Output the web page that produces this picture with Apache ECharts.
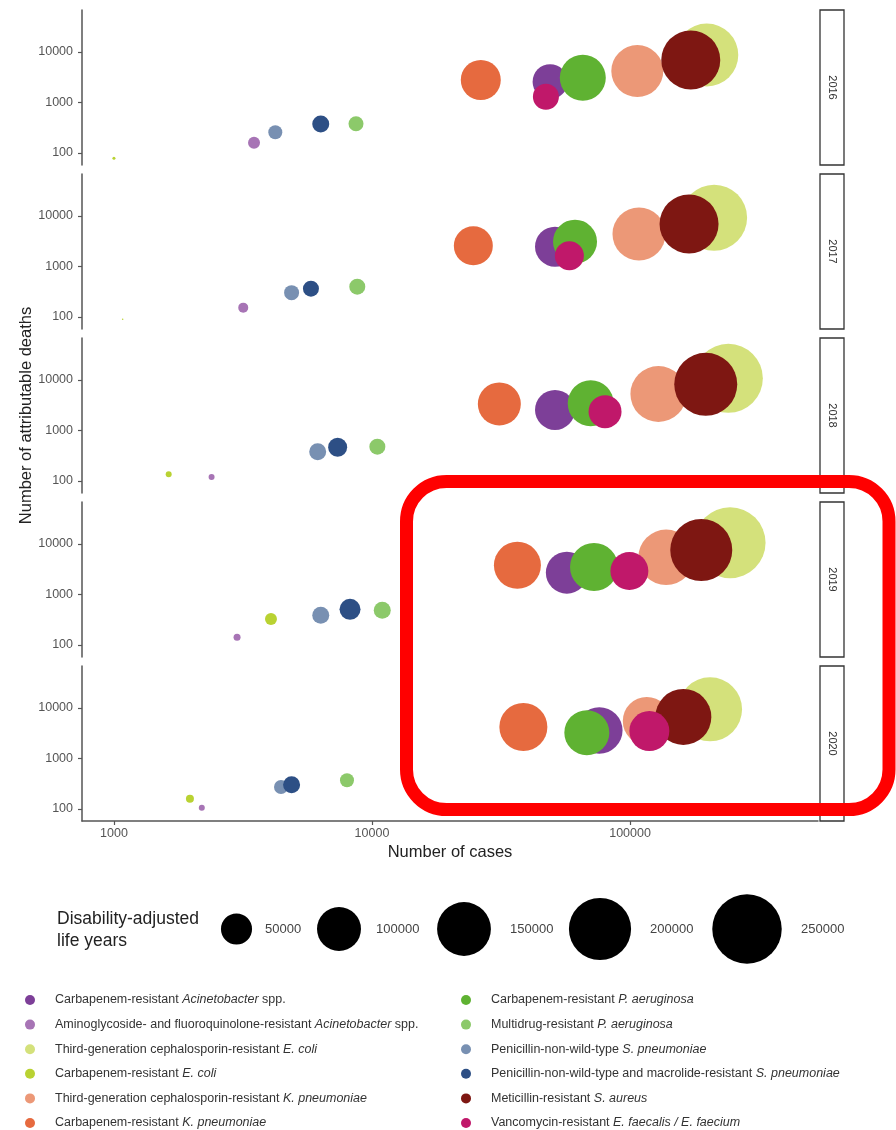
<!DOCTYPE html>
<html><head><meta charset="utf-8">
<script src="https://cdn.jsdelivr.net/npm/echarts@6/dist/echarts.min.js"></script>
<style>html,body{margin:0;padding:0;background:#fff}#c{width:896px;height:1130px}</style>
</head><body><div id="c"></div>
<script>
// ---------- data ----------
const years = ['2016', '2017', '2018', '2019', '2020'];
const pathogens = [
  'Carbapenem-resistant Acinetobacter spp.',
  'Aminoglycoside- and fluoroquinolone-resistant Acinetobacter spp.',
  'Third-generation cephalosporin-resistant E. coli',
  'Carbapenem-resistant E. coli',
  'Third-generation cephalosporin-resistant K. pneumoniae',
  'Carbapenem-resistant K. pneumoniae',
  'Carbapenem-resistant P. aeruginosa',
  'Multidrug-resistant P. aeruginosa',
  'Penicillin-non-wild-type S. pneumoniae',
  'Penicillin-non-wild-type and macrolide-resistant S. pneumoniae',
  'Meticillin-resistant S. aureus',
  'Vancomycin-resistant E. faecalis / E. faecium'
];
const legendLabels = [
  'Carbapenem-resistant {i|Acinetobacter} spp.',
  'Aminoglycoside- and fluoroquinolone-resistant {i|Acinetobacter} spp.',
  'Third-generation cephalosporin-resistant {i|E. coli}',
  'Carbapenem-resistant {i|E. coli}',
  'Third-generation cephalosporin-resistant {i|K. pneumoniae}',
  'Carbapenem-resistant {i|K. pneumoniae}',
  'Carbapenem-resistant {i|P. aeruginosa}',
  'Multidrug-resistant {i|P. aeruginosa}',
  'Penicillin-non-wild-type {i|S. pneumoniae}',
  'Penicillin-non-wild-type and macrolide-resistant {i|S. pneumoniae}',
  'Meticillin-resistant {i|S. aureus}',
  'Vancomycin-resistant {i|E. faecalis / E. faecium}'
];
const colors = ['#7d3f98', '#a774b5', '#d4e17b', '#b9d232', '#ec9877', '#e66a3f',
                '#5fb232', '#8cc96a', '#7890b2', '#2d4f85', '#7e1712', '#c0186a'];

// number of cases, attributable deaths, DALYs (pathogen order as above)
const cases2016  = [49000, 3490, 198300, 1000, 106700, 26400, 65600, 8670, 4220, 6330, 171900, 47200];
const deaths2016 = [2580, 160, 8720, 78.5, 4200, 2790, 3100, 380, 257, 375, 6950, 1300];
const dalys2016  = [63400, 7450, 205400, 470, 140000, 82800, 109500, 11650, 10150, 14960, 180200, 35000];

const cases2017  = [51200, 3170, 211700, 1081, 108300, 24700, 61200, 8770, 4880, 5800, 169300, 58200];
const deaths2017 = [2470, 153, 9270, 90, 4400, 2580, 3100, 398, 303, 364, 6950, 1640];
const dalys2017  = [82800, 5180, 225500, 120, 145400, 78700, 100200, 13250, 11650, 13250, 180200, 43500];

const cases2018  = [51200, 2390, 240400, 1630, 128800, 31150, 70400, 10490, 6160, 7360, 196500, 80000];
const deaths2018 = [2550, 120, 10800, 136, 5280, 3350, 3450, 478, 380, 465, 8200, 2360];
const dalys2018  = [82800, 1860, 246400, 1860, 162300, 95700, 109500, 13250, 14960, 18700, 205400, 56400];

const cases2019  = [56900, 3000, 244100, 4060, 138000, 36600, 72500, 10960, 6330, 8220, 188800, 99400];
const deaths2019 = [2700, 142, 10600, 327, 5450, 3790, 3500, 487, 387, 509, 7600, 2920];
const dalys2019  = [91300, 2540, 260900, 7450, 160000, 114300, 119200, 14960, 14960, 22800, 199000, 74700];

const cases2020  = [76000, 2190, 204200, 1970, 116100, 38600, 68000, 8000, 4440, 4880, 160900, 118800];
const deaths2020 = [3600, 106, 9420, 160, 5530, 4200, 3240, 370, 273, 303, 6640, 3500];
const dalys2020  = [112000, 1860, 212000, 3310, 119200, 119200, 104800, 10150, 10150, 14960, 162300, 82800];

const xTicks = [1000, 10000, 100000];
const yTicks = [100, 1000, 10000];
const sizeLegendValues = [50000, 100000, 150000, 200000, 250000];

// ---------- layout ----------
const casesByYear = [cases2016, cases2017, cases2018, cases2019, cases2020];
const deathsByYear = [deaths2016, deaths2017, deaths2018, deaths2019, deaths2020];
const dalysByYear = [dalys2016, dalys2017, dalys2018, dalys2019, dalys2020];

const sizeFn = v => 0.139 * Math.sqrt(v);   // area proportional to DALYs
const FONT = 'Liberation Sans, Arial, sans-serif';
const PANEL_TOP = 10, PANEL_STEP = 164, PANEL_H = 155, LEFT = 82, WIDTH = 736;
const X_MIN = 752, X_MAX = 535000, Y_MIN = 57.8, Y_MAX = 67900;
const sizeLegendX = [236.5, 339, 464, 600, 747];
const sizeLegendLabelX = [265, 376, 510, 650, 801];

const grids = [], xAxes = [], yAxes = [], series = [], graphics = [];
const fmt = v => String(Math.round(v));

years.forEach((yr, i) => {
  const top = PANEL_TOP + i * PANEL_STEP;
  const last = i === years.length - 1;
  grids.push({ left: LEFT, top: top, width: WIDTH, height: PANEL_H });
  xAxes.push({
    type: 'log', logBase: 10, gridIndex: i, min: X_MIN, max: X_MAX,
    axisLine: { show: last, onZero: false, lineStyle: { color: '#555', width: 1.5 } },
    axisTick: { show: last, length: 4, customValues: xTicks, lineStyle: { color: '#555', width: 1.2 } },
    axisLabel: { show: last, customValues: xTicks, formatter: fmt, color: '#555', fontSize: 12.5, margin: 6, fontFamily: FONT },
    splitLine: { show: false },
    name: last ? 'Number of cases' : '', nameLocation: 'middle', nameGap: 23, nameMoveOverlap: false,
    nameTextStyle: { color: '#222', fontSize: 16.5, fontFamily: FONT }
  });
  yAxes.push({
    type: 'log', logBase: 10, gridIndex: i, min: Y_MIN, max: Y_MAX,
    axisLine: { show: true, onZero: false, lineStyle: { color: '#555', width: 1.5 } },
    axisTick: { show: true, length: 4, customValues: yTicks, lineStyle: { color: '#555', width: 1.2 } },
    axisLabel: { customValues: yTicks, formatter: fmt, color: '#555', fontSize: 12.5, margin: 9, fontFamily: FONT },
    splitLine: { show: false },
    name: i === 2 ? 'Number of attributable deaths' : '', nameLocation: 'middle', nameGap: 47, nameMoveOverlap: false,
    nameTextStyle: { color: '#222', fontSize: 16.5, fontFamily: FONT }
  });
  pathogens.forEach((p, k) => {
    series.push({
      type: 'scatter', name: p, xAxisIndex: i, yAxisIndex: i,
      data: [[casesByYear[i][k], deathsByYear[i][k], dalysByYear[i][k]]],
      symbol: 'circle',
      symbolSize: d => sizeFn(d[2]),
      itemStyle: { color: colors[k], opacity: 1 },
      emphasis: { disabled: true }
    });
  });
  // facet strip
  graphics.push({ type: 'rect', shape: { x: 820, y: top, width: 24, height: PANEL_H },
    style: { fill: '#fff', stroke: '#333', lineWidth: 1.3 } });
  graphics.push({ type: 'text', x: 832, y: top + PANEL_H / 2, rotation: -Math.PI / 2,
    style: { text: yr, fill: '#333', font: '11px ' + FONT, align: 'center', verticalAlign: 'middle' } });
});

// size legend
graphics.push({ type: 'text', x: 57, y: 930,
  style: { text: 'Disability-adjusted\nlife years', fill: '#222', font: '17.5px ' + FONT, lineHeight: 22, align: 'left', verticalAlign: 'middle' } });
sizeLegendValues.forEach((v, j) => {
  graphics.push({ type: 'circle', shape: { cx: sizeLegendX[j], cy: 929, r: sizeFn(v) / 2 }, style: { fill: '#000' } });
  graphics.push({ type: 'text', x: sizeLegendLabelX[j], y: 929,
    style: { text: String(v), fill: '#444', font: '13px ' + FONT, align: 'left', verticalAlign: 'middle' } });
});

// highlight annotation
graphics.push({ type: 'rect', z: 100, shape: { x: 406.5, y: 481.5, width: 482.5, height: 328, r: 40 },
  style: { fill: 'none', stroke: '#ff0000', lineWidth: 13 } });

const legendBase = {
  orient: 'vertical', top: 988, height: 160, icon: 'circle', itemWidth: 10, itemHeight: 10, itemGap: 10.6,
  selectedMode: false,
  formatter: n => legendLabels[pathogens.indexOf(n)],
  textStyle: { fontSize: 12.5, color: '#333', fontFamily: FONT, lineHeight: 14, padding: [0, 0, 0, 15],
    rich: { i: { fontStyle: 'italic', fontSize: 12.5, color: '#333', fontFamily: FONT, lineHeight: 14 } } }
};

const chart = echarts.init(document.getElementById('c'), null, { renderer: 'canvas' });
chart.setOption({
  animation: false,
  backgroundColor: '#fff',
  grid: grids, xAxis: xAxes, yAxis: yAxes, series: series,
  legend: [
    Object.assign({}, legendBase, { left: 20, data: pathogens.slice(0, 6) }),
    Object.assign({}, legendBase, { left: 456, data: pathogens.slice(6) })
  ],
  graphic: graphics
});
</script></body></html>
